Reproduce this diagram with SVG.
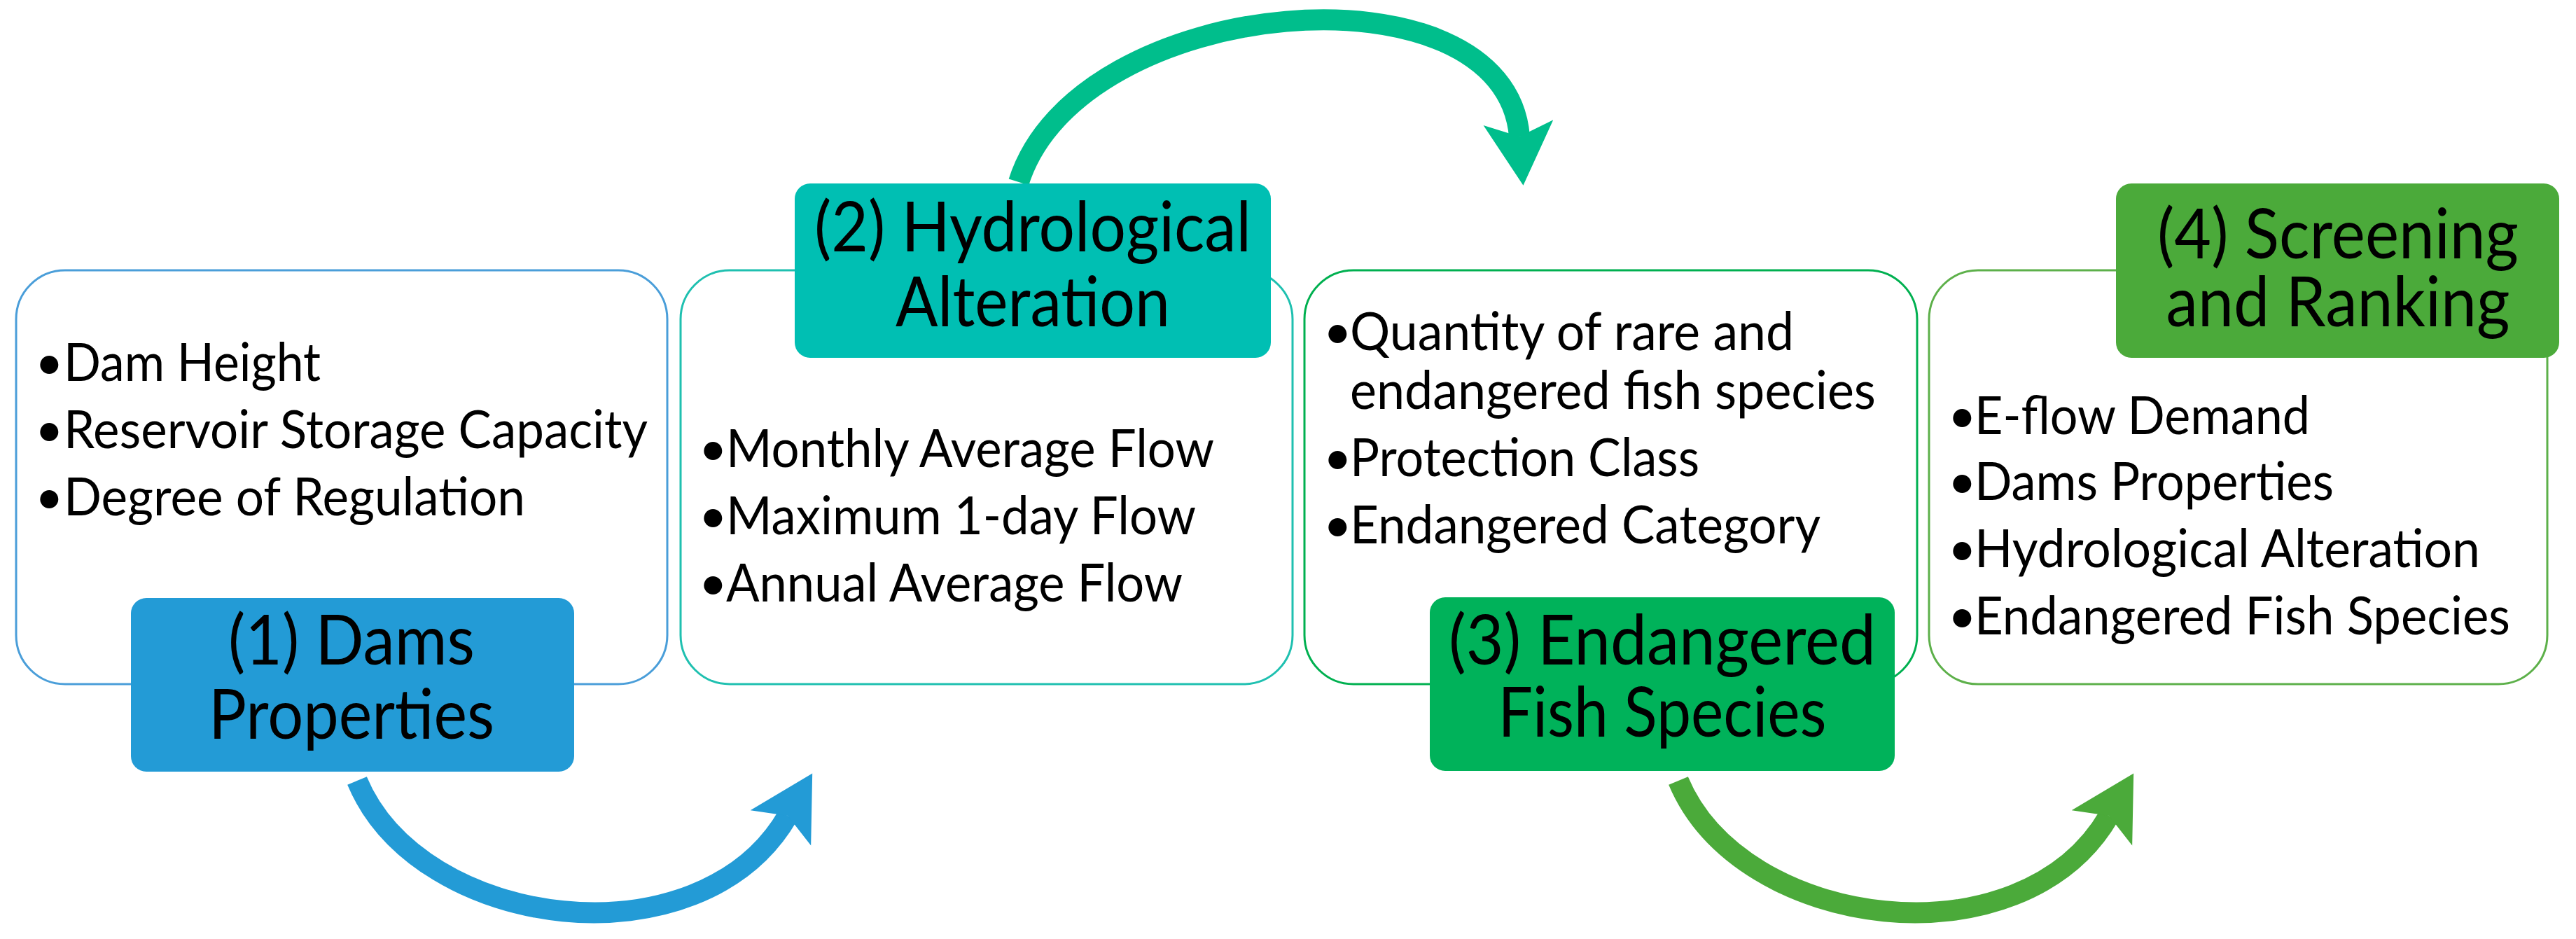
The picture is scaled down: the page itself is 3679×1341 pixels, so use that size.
<svg xmlns="http://www.w3.org/2000/svg" width="3679" height="1341" viewBox="0 0 3679 1341">
<style>
text{font-family:Lato,"Open Sans","Liberation Sans",sans-serif;fill:#000}
.b{font-size:76px}
.d{font-size:70px}
.t{font-size:98px;text-anchor:middle}
.box{fill:#fff;stroke-width:3}
.arc{fill:none;stroke-width:30}
</style>
<defs>
<marker id="mb" markerUnits="userSpaceOnUse" markerWidth="110" markerHeight="110" refX="20" refY="50" orient="auto"><path d="M0,0 L90,50 L0,100 L20,50 Z" fill="#239BD6"/></marker>
<marker id="mt" markerUnits="userSpaceOnUse" markerWidth="110" markerHeight="110" refX="20" refY="50" orient="auto"><path d="M0,0 L90,50 L0,100 L20,50 Z" fill="#00BE8C"/></marker>
<marker id="mg" markerUnits="userSpaceOnUse" markerWidth="110" markerHeight="110" refX="20" refY="50" orient="auto"><path d="M0,0 L90,50 L0,100 L20,50 Z" fill="#4BAA3A"/></marker>
</defs>
<g id="connectors">
<path class="arc" stroke="#239BD6" d="M510,1115 C600,1330 1000,1380 1125,1165" marker-end="url(#mb)"/>
<path class="arc" stroke="#00BE8C" d="M1455,260 C1540,-10 2150,-60 2170,195" marker-end="url(#mt)"/>
<path class="arc" stroke="#4BAA3A" d="M2397,1115 C2487,1330 2887,1380 3012,1165" marker-end="url(#mg)"/>
</g>
<g id="node1">
<rect class="box" x="23" y="386" width="930" height="591" rx="70" stroke="#4A9ED9"/>
<text class="d" x="50" y="542">•</text><text class="b" x="91" y="544" textLength="367" lengthAdjust="spacingAndGlyphs">Dam Height</text>
<text class="d" x="50" y="638">•</text><text class="b" x="91" y="640" textLength="834" lengthAdjust="spacingAndGlyphs">Reservoir Storage Capacity</text>
<text class="d" x="50" y="734">•</text><text class="b" x="91" y="736" textLength="659" lengthAdjust="spacingAndGlyphs">Degree of Regulation</text>
<rect x="187" y="854" width="633" height="248" rx="22" fill="#239BD6"/>
<text class="t" x="502" y="949" textLength="352" lengthAdjust="spacingAndGlyphs">(1) Dams</text>
<text class="t" x="502" y="1055" textLength="408" lengthAdjust="spacingAndGlyphs">Properties</text>
</g>
<g id="node2">
<rect class="box" x="972" y="386" width="874" height="591" rx="70" stroke="#1FC0B0"/>
<text class="d" x="998" y="665">•</text><text class="b" x="1037" y="667" textLength="697" lengthAdjust="spacingAndGlyphs">Monthly Average Flow</text>
<text class="d" x="998" y="761">•</text><text class="b" x="1037" y="763" textLength="671" lengthAdjust="spacingAndGlyphs">Maximum 1-day Flow</text>
<text class="d" x="998" y="857">•</text><text class="b" x="1037" y="859" textLength="652" lengthAdjust="spacingAndGlyphs">Annual Average Flow</text>
<rect x="1135" y="262" width="680" height="249" rx="22" fill="#00BFB3"/>
<text class="t" x="1475" y="359" textLength="624" lengthAdjust="spacingAndGlyphs">(2) Hydrological</text>
<text class="t" x="1475" y="466" textLength="392" lengthAdjust="spacingAndGlyphs">Alteration</text>
</g>
<g id="node3">
<rect class="box" x="1863" y="386" width="875" height="591" rx="70" stroke="#00B050"/>
<text class="d" x="1890" y="498">•</text><text class="b" x="1928" y="500" textLength="634" lengthAdjust="spacingAndGlyphs">Quantity of rare and</text>
<text class="b" x="1928" y="584" textLength="751" lengthAdjust="spacingAndGlyphs">endangered fish species</text>
<text class="d" x="1890" y="678">•</text><text class="b" x="1928" y="680" textLength="499" lengthAdjust="spacingAndGlyphs">Protection Class</text>
<text class="d" x="1890" y="774">•</text><text class="b" x="1928" y="776" textLength="672" lengthAdjust="spacingAndGlyphs">Endangered Category</text>
<rect x="2042" y="853" width="664" height="248" rx="22" fill="#00B25A"/>
<text class="t" x="2374" y="949" textLength="610" lengthAdjust="spacingAndGlyphs">(3) Endangered</text>
<text class="t" x="2374" y="1052" textLength="469" lengthAdjust="spacingAndGlyphs">Fish Species</text>
</g>
<g id="node4">
<rect class="box" x="2755" y="386" width="883" height="591" rx="70" stroke="#5DB04A"/>
<text class="d" x="2782" y="618">•</text><text class="b" x="2820" y="620" textLength="479" lengthAdjust="spacingAndGlyphs">E-flow Demand</text>
<text class="d" x="2782" y="712">•</text><text class="b" x="2820" y="714" textLength="513" lengthAdjust="spacingAndGlyphs">Dams Properties</text>
<text class="d" x="2782" y="808">•</text><text class="b" x="2820" y="810" textLength="722" lengthAdjust="spacingAndGlyphs">Hydrological Alteration</text>
<text class="d" x="2782" y="904">•</text><text class="b" x="2820" y="906" textLength="765" lengthAdjust="spacingAndGlyphs">Endangered Fish Species</text>
<rect x="3022" y="262" width="633" height="249" rx="22" fill="#4BAA3A"/>
<text class="t" x="3339" y="369" textLength="516" lengthAdjust="spacingAndGlyphs">(4) Screening</text>
<text class="t" x="3339" y="466" textLength="491" lengthAdjust="spacingAndGlyphs">and Ranking</text>
</g>
</svg>
